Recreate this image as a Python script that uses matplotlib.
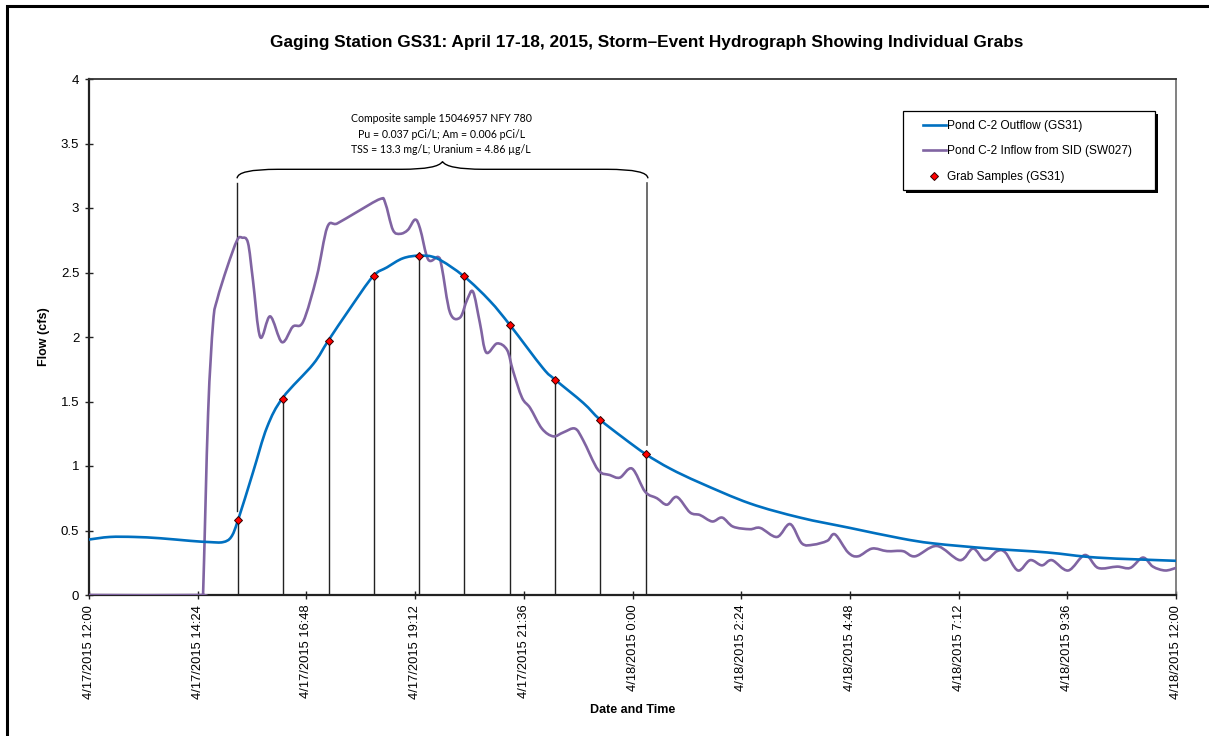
import matplotlib
matplotlib.use("Agg")
import matplotlib.pyplot as plt
from matplotlib.path import Path
from matplotlib.patches import PathPatch, Rectangle
from matplotlib.lines import Line2D

plt.rcParams['font.family'] = ['Liberation Sans', 'DejaVu Sans']

# ---- data (x = hours after 4/17/2015 12:00) ----
outflow_t = [0.0, 0.46, 1.0, 1.57, 2.23, 2.67, 2.96, 3.14, 3.29, 3.62, 3.93, 4.28, 4.95,
             5.28, 5.76, 6.27, 6.58, 6.93, 7.29, 7.68, 8.28, 8.85, 9.30, 10.02, 10.29,
             10.91, 11.28, 11.79, 12.30, 12.83, 13.49, 14.59, 15.70, 16.80, 17.91, 18.64,
             19.89, 21.15, 22.26, 24.0]
outflow_q = [0.43, 0.45, 0.45, 0.44, 0.42, 0.41, 0.41, 0.45, 0.58, 0.95, 1.30, 1.53, 1.79,
             1.97, 2.22, 2.47, 2.54, 2.61, 2.63, 2.61, 2.47, 2.28, 2.09, 1.76, 1.67,
             1.49, 1.36, 1.22, 1.09, 0.98, 0.87, 0.71, 0.60, 0.52, 0.44, 0.40,
             0.36, 0.33, 0.29, 0.265]

inflow_t = [0.0, 2.495, 2.52, 2.63, 2.74, 2.83, 3.05, 3.27, 3.38, 3.51, 3.62, 3.78, 4.00,
            4.26, 4.50, 4.73, 5.03, 5.26, 5.48, 5.92, 6.43, 6.54, 6.71, 6.87, 7.04, 7.20,
            7.31, 7.49, 7.71, 7.79, 7.97, 8.19, 8.35, 8.48, 8.63, 8.77, 9.01, 9.23, 9.36,
            9.56, 9.74, 10.00, 10.25, 10.47, 10.73, 10.91, 11.24, 11.50, 11.72, 11.99,
            12.28, 12.54, 12.76, 12.98, 13.27, 13.49, 13.76, 13.98, 14.22, 14.59, 14.82,
            15.19, 15.48, 15.74, 15.99, 16.30, 16.47, 16.76, 16.98, 17.29, 17.62, 17.97,
            18.24, 18.72, 19.23, 19.52, 19.78, 20.05, 20.23, 20.51, 20.78, 21.04, 21.26,
            21.62, 21.99, 22.28, 22.70, 22.99, 23.27, 23.49, 23.76, 24.0]
inflow_q = [0.0, 0.0, 0.02, 1.41, 2.11, 2.29, 2.54, 2.75, 2.77, 2.73, 2.44, 2.00, 2.16,
            1.96, 2.08, 2.12, 2.47, 2.85, 2.88, 2.97, 3.07, 3.04, 2.83, 2.80, 2.83, 2.91,
            2.84, 2.60, 2.62, 2.54, 2.19, 2.15, 2.29, 2.35, 2.11, 1.88, 1.95, 1.90, 1.74,
            1.53, 1.45, 1.29, 1.23, 1.26, 1.29, 1.20, 0.97, 0.93, 0.91, 0.98,
            0.80, 0.75, 0.70, 0.76, 0.64, 0.62, 0.57, 0.60, 0.53, 0.51, 0.52,
            0.45, 0.55, 0.40, 0.39, 0.42, 0.47, 0.33, 0.30, 0.36, 0.34, 0.34,
            0.30, 0.38, 0.27, 0.36, 0.27, 0.34, 0.33, 0.19, 0.27, 0.23, 0.27,
            0.19, 0.31, 0.21, 0.22, 0.21, 0.29, 0.22, 0.19, 0.21]

grab_t = [3.29, 4.28, 5.30, 6.29, 7.29, 8.28, 9.30, 10.29, 11.28, 12.30]
grab_q = [0.58, 1.52, 1.97, 2.47, 2.63, 2.47, 2.09, 1.67, 1.36, 1.09]

tick_hours = [0, 2.4, 4.8, 7.2, 9.6, 12, 14.4, 16.8, 19.2, 21.6, 24]
tick_labels = ["4/17/2015 12:00", "4/17/2015 14:24", "4/17/2015 16:48", "4/17/2015 19:12",
               "4/17/2015 21:36", "4/18/2015 0:00", "4/18/2015 2:24", "4/18/2015 4:48",
               "4/18/2015 7:12", "4/18/2015 9:36", "4/18/2015 12:00"]
y_ticks = [0, 0.5, 1, 1.5, 2, 2.5, 3, 3.5, 4]
y_labels = ["0", "0.5", "1", "1.5", "2", "2.5", "3", "3.5", "4"]

series_names = ['Pond C-2 Outflow (GS31)', 'Pond C-2 Inflow from SID (SW027)', 'Grab Samples (GS31)']

note_lines = ["Composite sample 15046957 NFY 780",
              "Pu = 0.037 pCi/L; Am = 0.006 pCi/L",
              "TSS = 13.3 mg/L; Uranium = 4.86 \u00b5g/L"]

BLUE = "#0070C0"
PURPLE = "#8064A2"


def smooth_path(xs, ys):
    """Excel-style smoothed line: cubic Bezier segments through the given points."""
    n = len(xs)
    verts = [(xs[0], ys[0])]
    codes = [Path.MOVETO]
    for i in range(n - 1):
        x0, y0 = xs[max(i - 1, 0)], ys[max(i - 1, 0)]
        x1, y1 = xs[i], ys[i]
        x2, y2 = xs[i + 1], ys[i + 1]
        x3, y3 = xs[min(i + 2, n - 1)], ys[min(i + 2, n - 1)]
        c1 = (x1 + (x2 - x0) / 6.0, y1 + (y2 - y0) / 6.0)
        c2 = (x2 - (x3 - x1) / 6.0, y2 - (y3 - y1) / 6.0)
        verts += [c1, c2, (x2, y2)]
        codes += [Path.CURVE4, Path.CURVE4, Path.CURVE4]
    return Path(verts, codes)


fig = plt.figure(figsize=(12.09, 7.36), dpi=100)
ax = fig.add_axes([89/1209, 1-595/736, (1176-89)/1209, (595-79)/736])

# figure frame (left/top visible)
fig.patches.append(Rectangle((7/1209, -0.05), 1.2, 1-6/736+0.05, transform=fig.transFigure,
                             fill=False, edgecolor='black', linewidth=2.2, zorder=0))

# grab droplines
for t, q in zip(grab_t, grab_q):
    ax.plot([t, t], [0, q], color='#222222', lw=1.0, zorder=1)

# bracket legs
ax.plot([grab_t[0]-0.02, grab_t[0]-0.02], [0.65, 3.19], color='#222222', lw=1.0, zorder=1)
ax.plot([grab_t[-1]+0.02, grab_t[-1]+0.02], [1.16, 3.19], color='#555555', lw=1.2, zorder=1)

# curly brace
x0, x1 = grab_t[0] - 0.02, grab_t[-1] + 0.04
xm = (x0 + x1) / 2
yb, yh, yt = 3.23, 3.30, 3.36
d = 0.9
verts = [(x0, yb), (x0, yh), (x0 + d, yh),
         (xm - d, yh),
         (xm - 0.1, yh), (xm, yt),
         (xm, yt),
         (xm + 0.1, yh), (xm + d, yh),
         (x1 - d, yh),
         (x1, yh), (x1, yb)]
codes = [Path.MOVETO, Path.CURVE3, Path.CURVE3,
         Path.LINETO,
         Path.CURVE3, Path.CURVE3,
         Path.MOVETO,
         Path.CURVE3, Path.CURVE3,
         Path.LINETO,
         Path.CURVE3, Path.CURVE3]
ax.add_patch(PathPatch(Path(verts, codes), fill=False, edgecolor='black', lw=1.0, zorder=2))

for i, line in enumerate(note_lines):
    ax.text(xm - 0.03, 3.69 - i * 0.12, line, ha='center', va='center', fontsize=7.6,
            family=['Lato', 'DejaVu Sans'])

ax.add_patch(PathPatch(smooth_path(inflow_t, inflow_q), fill=False, edgecolor=PURPLE,
                       lw=1.9, zorder=3, capstyle='round', joinstyle='round'))
ax.add_patch(PathPatch(smooth_path(outflow_t, outflow_q), fill=False, edgecolor=BLUE,
                       lw=1.9, zorder=4, capstyle='round', joinstyle='round'))
l3, = ax.plot(grab_t, grab_q, linestyle='none', marker='D', markersize=4, markerfacecolor='#FF0000',
              markeredgecolor='#300000', markeredgewidth=0.7, label=series_names[2], zorder=5)
l1 = Line2D([], [], color=BLUE, lw=1.9, label=series_names[0])
l2 = Line2D([], [], color=PURPLE, lw=1.9, label=series_names[1])

ax.set_xlim(0, 24)
ax.set_ylim(0, 4)
ax.set_xticks(tick_hours)
ax.set_xticklabels(tick_labels, rotation=90, fontsize=9.3)
ax.set_yticks(y_ticks)
ax.set_yticklabels(y_labels, fontsize=9.5)
ax.tick_params(axis='both', direction='inout', length=6, width=1.0, color='#222222')
ax.tick_params(axis='x', pad=4)
ax.tick_params(axis='y', pad=4)
for s in ['left', 'bottom']:
    ax.spines[s].set_color('#222222')
    ax.spines[s].set_linewidth(1.6)
for s in ['top', 'right']:
    ax.spines[s].set_color('#777777')
    ax.spines[s].set_linewidth(1.3)
ax.spines['top'].set_color('#333333')

ax.set_xlabel('Date and Time', fontsize=9, fontweight='bold', labelpad=4)
ax.set_ylabel('Flow (cfs)', fontsize=9, fontweight='bold', labelpad=8)
fig.text(647/1209, 1-43/736, 'Gaging Station GS31: April 17-18, 2015, Storm\u2013Event Hydrograph Showing Individual Grabs',
         ha='center', va='center', fontsize=12.4, fontweight='bold')

# legend box with solid shadow
bx0, bx1 = (903-89)/1087, (1155-89)/1087
by0, by1 = (595-190)/516, (595-111)/516
sx, sy = 3/1087, 3/516
ax.add_patch(Rectangle((bx0 + sx, by0 - sy), bx1 - bx0, by1 - by0, transform=ax.transAxes,
                       facecolor='black', edgecolor='none', zorder=8, clip_on=False))
ax.add_patch(Rectangle((bx0, by0), bx1 - bx0, by1 - by0, transform=ax.transAxes,
                       facecolor='white', edgecolor='black', lw=0.9, zorder=9, clip_on=False))

leg = ax.legend(handles=[l1, l2, l3], loc='upper left',
                bbox_to_anchor=((923-89)/1087, (595-120)/516),
                fontsize=8.6, frameon=False, borderpad=0, labelspacing=1.12,
                handlelength=1.9, handletextpad=0.15, borderaxespad=0)
leg.set_zorder(10)

fig.savefig('out.png', dpi=100)
